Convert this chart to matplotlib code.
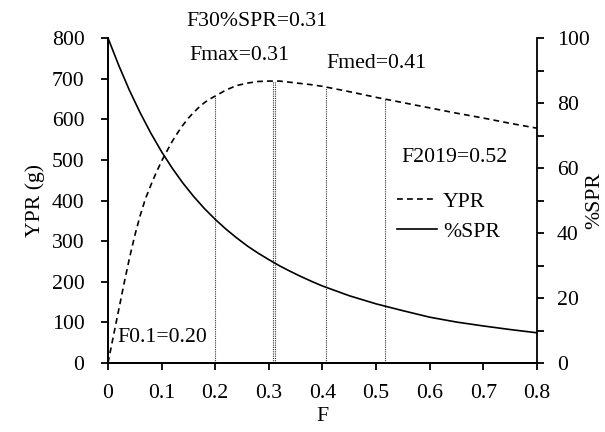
#!/usr/bin/env python3
"""YPR and %SPR against fishing mortality F, with reference points."""

import matplotlib

matplotlib.use("Agg")
import matplotlib.pyplot as plt
from matplotlib.ticker import MultipleLocator

plt.rcParams["font.family"] = ["Liberation Serif", "DejaVu Serif"]
plt.rcParams["font.size"] = 15.7

# values
f_ypr = [0.0, 0.01, 0.02, 0.03, 0.04, 0.05, 0.06, 0.07, 0.08, 0.09, 0.10,
         0.11, 0.12, 0.13, 0.14, 0.15, 0.16, 0.17, 0.18, 0.19, 0.20, 0.22,
         0.24, 0.26, 0.28, 0.30, 0.32, 0.34, 0.36, 0.38, 0.40, 0.45, 0.50,
         0.55, 0.60, 0.65, 0.70, 0.75, 0.80]
ypr = [0, 66, 131, 196, 258, 314, 363, 405, 438, 469, 497,
       522, 546, 567, 586, 603, 617, 630, 641, 650, 657, 672,
       683, 689, 693, 694, 694, 691, 688, 685, 681, 668, 654,
       641, 628, 615, 603, 590, 578]

f_spr = [0.0, 0.02, 0.04, 0.06, 0.08, 0.10, 0.12, 0.14, 0.16, 0.18, 0.20,
         0.22, 0.24, 0.26, 0.28, 0.30, 0.32, 0.34, 0.36, 0.38, 0.40, 0.45,
         0.50, 0.55, 0.60, 0.65, 0.70, 0.75, 0.80]
spr = [100, 91.6, 83.9, 77.0, 70.7, 65.0, 59.9, 55.3, 51.2, 47.5, 44.2,
       41.2, 38.5, 36.0, 33.8, 31.8, 29.9, 28.2, 26.6, 25.1, 23.7, 20.7,
       18.2, 16.1, 14.1, 12.6, 11.4, 10.3, 9.3]

# reference-point drop lines (F, YPR at top)
ref_f = [0.200, 0.308, 0.312, 0.406, 0.517]
ref_top = [657, 694, 694, 680, 650]

# annotation labels and where they sit (F, YPR units)
ann_text = ["F30%SPR=0.31", "Fmax=0.31", "Fmed=0.41", "F2019=0.52", "F0.1=0.20"]
ann_f = [0.147, 0.151, 0.408, 0.548, 0.017]
ann_y = [840, 756, 738, 507, 64]

fig = plt.figure(figsize=(6.05, 4.32), dpi=100)
ax = fig.add_axes([0.1785, 0.1597, 0.709, 0.7523])
ax2 = ax.twinx()

ax.vlines(ref_f, 0, ref_top, colors="#333333", linestyles=(0, (1, 1)), linewidth=0.8, zorder=1)
(h_ypr,) = ax.plot(f_ypr, ypr, color="black", linewidth=1.2, linestyle=(0, (3.5, 2.5)), label="YPR", zorder=3)
(h_spr,) = ax2.plot(f_spr, spr, color="black", linewidth=1.2, label="%SPR", zorder=3)

for text, x, y in zip(ann_text, ann_f, ann_y):
    ax.text(x, y, text, ha="left", va="center", clip_on=False)

ax.set_xlim(0, 0.8)
ax.set_ylim(0, 800)
ax2.set_ylim(0, 100)
ax.xaxis.set_major_locator(MultipleLocator(0.1))
ax.yaxis.set_major_locator(MultipleLocator(100))
ax2.yaxis.set_major_locator(MultipleLocator(20))
ax2.yaxis.set_minor_locator(MultipleLocator(10))
ax.xaxis.set_major_formatter(plt.FuncFormatter(lambda v, p: "0" if v == 0 else f"{v:.1f}"))

for a in (ax, ax2):
    a.spines["top"].set_visible(False)
    for side in ("left", "right", "bottom"):
        a.spines[side].set_linewidth(1.3)
ax.spines["right"].set_visible(False)

ax.tick_params(axis="x", direction="out", length=5, width=1.3, pad=10)
ax.tick_params(axis="y", direction="out", length=5, width=1.3, pad=12)
ax2.tick_params(axis="y", which="both", direction="out", length=5, width=1.3, pad=9.5)

ax.set_xlabel("F", labelpad=3)
ax.set_ylabel("YPR (g)", labelpad=5)
ax2.set_ylabel("%SPR", labelpad=-3)

fig.legend(
    handles=[h_ypr, h_spr],
    loc="center left",
    bbox_to_anchor=(397 / 605, 1 - 216.5 / 432),
    bbox_transform=fig.transFigure,
    frameon=False,
    borderpad=0,
    borderaxespad=0,
    handlelength=1.85,
    handletextpad=0.25,
    labelspacing=0.45,
)

fig.savefig("out.png", dpi=100)
